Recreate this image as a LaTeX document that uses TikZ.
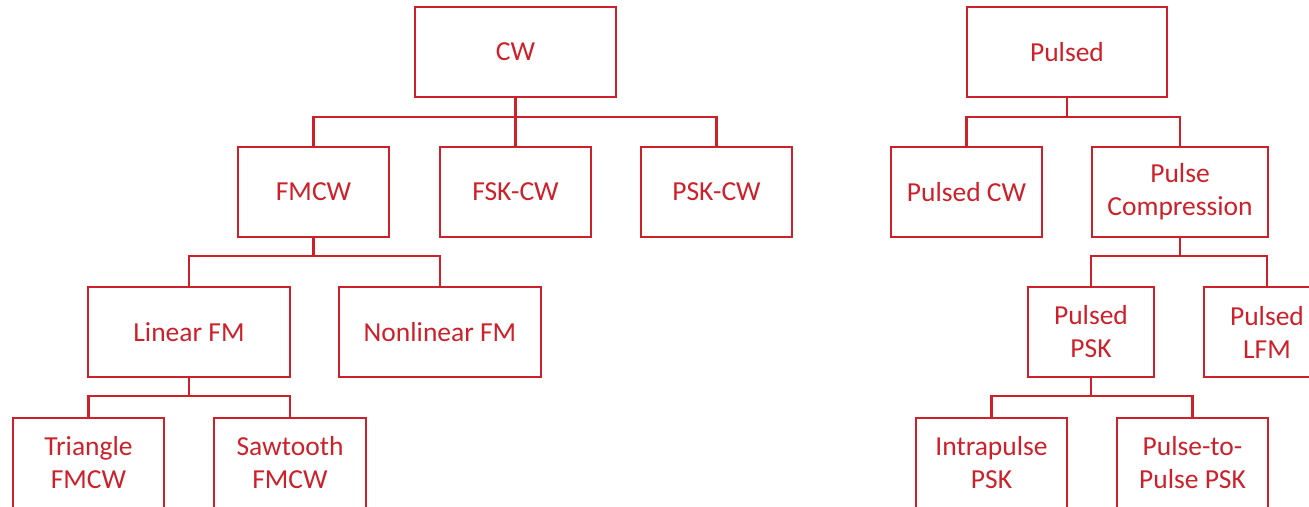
\documentclass[tikz,border=0pt]{standalone}
\usepackage{fontspec}
\setmainfont{Carlito}
\definecolor{boxred}{RGB}{204,32,42}
\begin{document}
\begin{tikzpicture}[x=1pt,y=-1pt,
  box/.style={draw=boxred,line width=2.1pt,text=boxred,align=center,
    inner sep=0pt,minimum height=90pt,
    font=\fontsize{27.5}{33}\selectfont},
  link/.style={draw=boxred,line width=2.1pt}]
\useasboundingbox (0,0) rectangle (1309,506);
% CW tree
\node[box,minimum width=201pt] (cw) at (515.5,52) {CW};
\node[box,minimum width=151pt] (fmcw) at (313.5,192) {FMCW};
\node[box,minimum width=151pt] (fsk) at (515.5,192) {FSK-CW};
\node[box,minimum width=151pt] (psk) at (716.5,192) {PSK-CW};
\node[box,minimum width=202pt] (lin) at (189,332) {Linear FM};
\node[box,minimum width=202pt] (nonlin) at (440,332) {Nonlinear FM};
\node[box,minimum width=151pt] (tri) at (88.5,463) {Triangle\\FMCW};
\node[box,minimum width=152pt] (saw) at (290,463) {Sawtooth\\FMCW};
% Pulsed tree
\node[box,minimum width=200pt] (pulsed) at (1067,52) {Pulsed};
\node[box,minimum width=151pt] (pcw) at (966.5,192) {Pulsed CW};
\node[box,minimum width=176pt] (pc) at (1180,192) {Pulse\\Compression};
\node[box,minimum width=126pt] (ppsk) at (1091,332) {Pulsed\\PSK};
\node[box,minimum width=126pt] (plfm) at (1267,332) {Pulsed\\LFM};
\node[box,minimum width=151pt] (intra) at (991.5,463) {Intrapulse\\PSK};
\node[box,minimum width=151pt] (p2p) at (1192.5,463) {Pulse-to-\\Pulse PSK};
% connectors
\foreach \c in {fmcw,fsk,psk} \draw[link] (cw.south) -- ++(0,19) -| (\c.north);
\foreach \c in {lin,nonlin} \draw[link] (fmcw.south) -- ++(0,18) -| (\c.north);
\foreach \c in {tri,saw} \draw[link] (lin.south) -- ++(0,18) -| (\c.north);
\foreach \c in {pcw,pc} \draw[link] (pulsed.south) -- ++(0,19) -| (\c.north);
\foreach \c in {ppsk,plfm} \draw[link] (pc.south) -- ++(0,18) -| (\c.north);
\foreach \c in {intra,p2p} \draw[link] (ppsk.south) -- ++(0,18) -| (\c.north);
\end{tikzpicture}
\end{document}
